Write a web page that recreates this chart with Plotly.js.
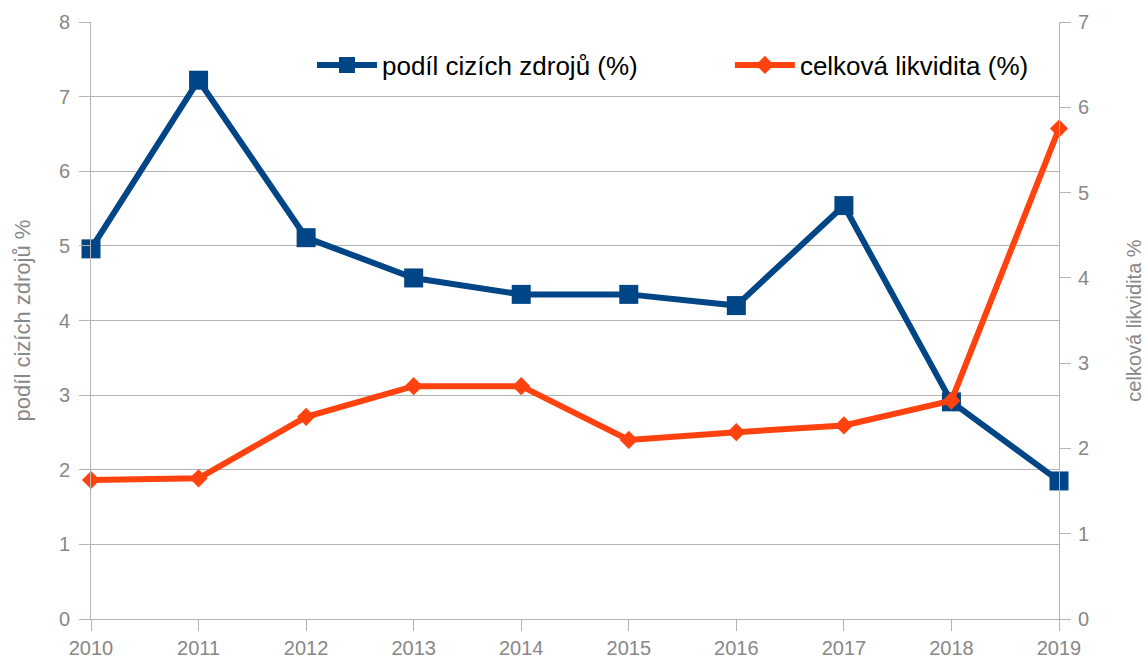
<!DOCTYPE html>
<html>
<head>
<meta charset="utf-8">
<script src="https://cdn.plot.ly/plotly-3.0.1.min.js"></script>
<style>html,body{margin:0;padding:0;background:#fff;}#chart{width:1145px;height:662px;}</style>
</head>
<body>
<div id="chart"></div>
<script>
const years = [2010, 2011, 2012, 2013, 2014, 2015, 2016, 2017, 2018, 2019];
const podilCizichZdroju = [4.96, 7.22, 5.11, 4.57, 4.35, 4.35, 4.2, 5.54, 2.91, 1.85];
const celkovaLikvidita = [1.63, 1.65, 2.37, 2.73, 2.73, 2.1, 2.19, 2.27, 2.56, 5.75];
const seriesNames = ["podíl cizích zdrojů (%)", "celková likvidita (%)"];

const gray = "#888888";
const traces = [
  {
    x: years, y: podilCizichZdroju, name: seriesNames[0], type: "scatter", mode: "lines+markers",
    line: {color: "#004586", width: 6},
    marker: {symbol: "square", size: 19, color: "#004586"},
    cliponaxis: false, legend: "legend"
  },
  {
    x: years, y: celkovaLikvidita, name: seriesNames[1], type: "scatter", mode: "lines+markers",
    yaxis: "y2",
    line: {color: "#ff420e", width: 6},
    marker: {symbol: "diamond", size: 14, color: "#ff420e"},
    cliponaxis: false, legend: "legend2"
  }
];

const legendFont = {size: 26, color: "#000"};
const layout = {
  width: 1145, height: 662,
  margin: {l: 91, r: 86, t: 22, b: 43},
  paper_bgcolor: "#fff", plot_bgcolor: "#fff",
  font: {family: "Liberation Sans, Arial, sans-serif", color: gray, size: 20},
  showlegend: true,
  legend: {
    orientation: "h", x: 0.2283, y: 0.928, xanchor: "left", yanchor: "middle",
    font: legendFont, bgcolor: "rgba(0,0,0,0)", itemwidth: 60
  },
  legend2: {
    orientation: "h", x: 0.660, y: 0.928, xanchor: "left", yanchor: "middle",
    font: legendFont, bgcolor: "rgba(0,0,0,0)", itemwidth: 60
  },
  xaxis: {
    range: [2010, 2019], tickmode: "array", tickvals: years, ticktext: years.map(String),
    showgrid: false, zeroline: false, showline: true, linecolor: "#b3b3b3", linewidth: 1,
    ticks: "outside", ticklen: 11, tickcolor: "#b3b3b3",
    tickfont: {size: 20, color: gray}
  },
  yaxis: {
    range: [0, 8], dtick: 1, showgrid: true, gridcolor: "#b3b3b3", gridwidth: 1,
    zeroline: false, showline: true, linecolor: "#b3b3b3",
    ticks: "outside", ticklen: 11, tickcolor: "#b3b3b3", ticklabelstandoff: 5,
    tickfont: {size: 20, color: gray},
    title: {text: "podíl cizích zdrojů %", font: {size: 22, color: gray}, standoff: 22}
  },
  yaxis2: {
    range: [0, 7], dtick: 1, overlaying: "y", side: "right", showgrid: false,
    zeroline: false, showline: true, linecolor: "#b3b3b3",
    ticks: "outside", ticklen: 11, tickcolor: "#b3b3b3", ticklabelstandoff: 3,
    tickfont: {size: 20, color: gray},
    title: {text: "celková likvidita %", font: {size: 20, color: gray}, standoff: 38}
  }
};

Plotly.newPlot("chart", traces, layout, {displayModeBar: false, staticPlot: true});
</script>
</body>
</html>
